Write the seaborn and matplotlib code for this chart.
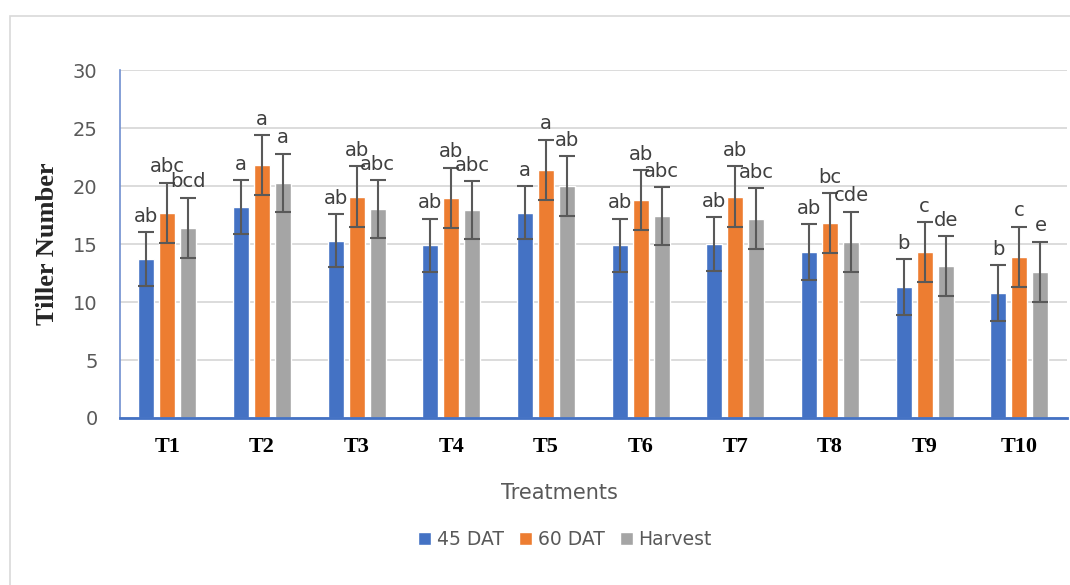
import pandas as pd
import matplotlib.pyplot as plt
import seaborn as sns
from matplotlib.patches import Rectangle

# data
treatments = ["T1", "T2", "T3", "T4", "T5", "T6", "T7", "T8", "T9", "T10"]
series = ["45 DAT", "60 DAT", "Harvest"]
dat45 = [13.7, 18.2, 15.3, 14.9, 17.7, 14.9, 15.0, 14.3, 11.3, 10.8]
dat60 = [17.7, 21.8, 19.1, 19.0, 21.4, 18.8, 19.1, 16.8, 14.3, 13.9]
harvest = [16.4, 20.3, 18.0, 17.9, 20.0, 17.4, 17.2, 15.2, 13.1, 12.6]
err45 = [2.3, 2.3, 2.3, 2.3, 2.3, 2.3, 2.3, 2.4, 2.4, 2.4]
err60 = [2.6, 2.6, 2.6, 2.6, 2.6, 2.6, 2.6, 2.6, 2.6, 2.6]
errhv = [2.6, 2.5, 2.5, 2.5, 2.6, 2.5, 2.6, 2.6, 2.6, 2.6]
let45 = ["ab", "a", "ab", "ab", "a", "ab", "ab", "ab", "b", "b"]
let60 = ["abc", "a", "ab", "ab", "a", "ab", "ab", "bc", "c", "c"]
lethv = ["bcd", "a", "abc", "abc", "ab", "abc", "abc", "cde", "de", "e"]

colors = ["#4472C4", "#ED7D31", "#A5A5A5"]

df = pd.DataFrame({
    "Treatment": treatments * 3,
    "Series": [s for s in series for _ in treatments],
    "Value": dat45 + dat60 + harvest,
})
errs = err45 + err60 + errhv
letters = let45 + let60 + lethv

sns.set_style("white")
fig = plt.figure(figsize=(10.7, 5.85), dpi=100)
ax = fig.add_axes([0.112, 0.2855, 0.885, 0.5945])

sns.barplot(data=df, x="Treatment", y="Value", hue="Series", palette=colors,
            saturation=1, width=0.666, gap=0.24, errorbar=None, ax=ax,
            zorder=2, legend=True)

# error bars and letters on each bar
bars = [p for p in ax.patches if p.get_height() > 0]
for i, p in enumerate(bars):
    x = p.get_x() + p.get_width() / 2
    h = p.get_height()
    ax.errorbar(x, h, yerr=errs[i], fmt="none", ecolor="#595959",
                elinewidth=1.5, capsize=6, capthick=1.5, zorder=3)
    ax.text(x, h + errs[i] + 0.55, letters[i], ha="center", va="bottom",
            fontsize=14, color="#404040", family="DejaVu Sans", zorder=4)

ax.set_ylim(0, 30)
ax.set_yticks(range(0, 31, 5))
ax.set_xlim(-0.5, 9.5)
ax.yaxis.grid(True, color="#d9d9d9", linewidth=1.3, zorder=0)
ax.set_axisbelow(True)
for s in ["top", "right"]:
    ax.spines[s].set_visible(False)
ax.spines["left"].set_color("#6f8fd0")
ax.spines["bottom"].set_color("#4472C4")
ax.spines["bottom"].set_linewidth(2)
ax.spines["left"].set_linewidth(1.2)
ax.tick_params(axis="y", colors="#6f8fd0", length=6, width=1.2, labelsize=14,
               labelcolor="#595959", pad=10)
ax.tick_params(axis="x", length=0, pad=14)
for t in ax.get_xticklabels():
    t.set_fontfamily("Liberation Serif")
    t.set_fontweight("bold")
    t.set_fontsize(16)
    t.set_color("black")

ax.set_ylabel("Tiller Number", fontsize=19, fontweight="bold",
              family="Liberation Serif", labelpad=10)
ax.set_xlabel("")
fig.text(0.523, 0.157, "Treatments", ha="center", va="center",
         fontsize=15, color="#595959")

ax.legend(loc="center", bbox_to_anchor=(0.528, 0.077), bbox_transform=fig.transFigure,
          ncol=3, frameon=False, fontsize=13.5, labelcolor="#595959",
          handlelength=0.7, handleheight=0.7, handletextpad=0.3, columnspacing=0.8)

fig.patches.append(Rectangle((0.009, -0.01), 1.0, 0.982, transform=fig.transFigure,
                             fill=False, edgecolor="#d9d9d9", linewidth=1.2))

fig.savefig("out.png", dpi=100, facecolor="white")
